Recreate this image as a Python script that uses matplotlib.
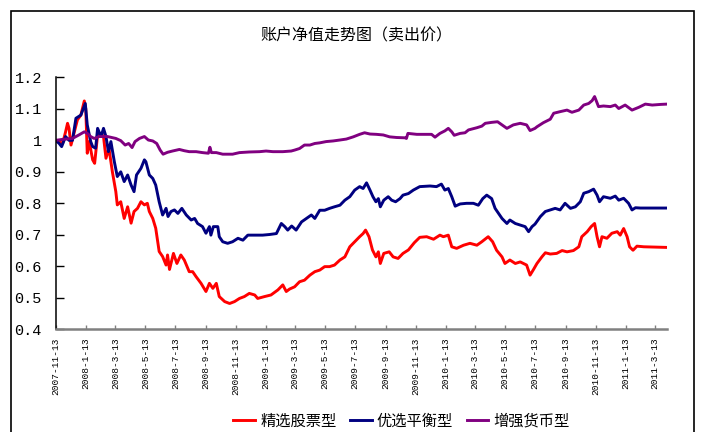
import numpy as np
import pandas as pd
import matplotlib
matplotlib.use('Agg')
import matplotlib.pyplot as plt

plt.rcParams['font.family'] = ['Noto Sans CJK SC', 'DejaVu Sans']

# Series: day offset from start date
start_date = '2007-11-13'
end_day = 1241

red_day = [0, 7, 14, 20, 24, 27, 31, 37, 44, 51, 58, 61, 64, 68, 75, 79, 85, 92, 97, 102,
           108, 115, 122, 125, 132, 139, 146, 153, 159, 166, 173, 180, 186, 190, 197, 203, 210, 217, 224, 227,
           231, 239, 246, 254, 261, 271, 278, 285, 295, 305, 312, 319, 326, 332, 343, 353, 363, 373, 383, 393,
           404, 410, 424, 437, 451, 461, 468, 475, 485, 495, 505, 516, 526, 536, 546, 556, 566, 577, 587, 597,
           607, 617, 624, 629, 636, 643, 650, 655, 659, 666, 677, 685, 695, 705, 716, 728, 739, 753, 767, 780,
           787, 797, 804, 814, 828, 841, 855, 865, 878, 887, 895, 906, 912, 922, 933, 943, 956, 963, 970, 977,
           987, 994, 1004, 1017, 1028, 1038, 1051, 1062, 1068, 1079, 1087, 1094, 1099, 1104, 1109, 1119, 1129, 1140, 1146, 1153,
           1160, 1165, 1172, 1180, 1194, 1241]
red_val = [1.0, 0.995, 0.99, 1.027, 1.054, 1.038, 0.985, 1.022, 1.065, 1.08, 1.125, 1.1, 0.959, 0.996, 0.938, 0.927, 1.017, 1.022, 1.012, 0.943,
           0.975, 0.9, 0.837, 0.795, 0.805, 0.752, 0.789, 0.737, 0.774, 0.784, 0.805, 0.795, 0.8, 0.774, 0.752, 0.721, 0.647, 0.631, 0.604, 0.636,
           0.59, 0.641, 0.609, 0.636, 0.62, 0.583, 0.583, 0.567, 0.546, 0.52, 0.546, 0.53, 0.546, 0.504, 0.488, 0.482, 0.488, 0.498, 0.504, 0.514,
           0.509, 0.498, 0.504, 0.509, 0.525, 0.541, 0.52, 0.528, 0.535, 0.551, 0.556, 0.572, 0.583, 0.588, 0.599, 0.599, 0.604, 0.62, 0.63, 0.662,
           0.678, 0.694, 0.704, 0.715, 0.694, 0.652, 0.63, 0.646, 0.609, 0.641, 0.646, 0.63, 0.625, 0.641, 0.652, 0.675, 0.692, 0.694, 0.686, 0.699,
           0.694, 0.699, 0.662, 0.657, 0.667, 0.673, 0.667, 0.678, 0.694, 0.678, 0.651, 0.63, 0.609, 0.62, 0.609, 0.614, 0.604, 0.572, 0.59, 0.609,
           0.63, 0.643, 0.639, 0.641, 0.65, 0.646, 0.65, 0.662, 0.694, 0.71, 0.726, 0.736, 0.694, 0.662, 0.694, 0.689, 0.705, 0.71, 0.699, 0.72,
           0.694, 0.662, 0.651, 0.664, 0.662, 0.66]

navy_day = [0, 7, 12, 20, 27, 34, 41, 51, 60, 64, 71, 75, 81, 85, 92, 97, 102, 107, 112, 119,
            125, 132, 139, 146, 153, 159, 164, 173, 180, 183, 190, 197, 203, 210, 217, 224, 228, 234, 241, 248,
            256, 265, 275, 282, 288, 298, 305, 312, 315, 320, 329, 332, 339, 349, 359, 370, 380, 390, 400, 410,
            420, 434, 448, 458, 465, 471, 479, 488, 499, 509, 519, 526, 536, 546, 556, 566, 577, 587, 597, 607,
            617, 624, 631, 638, 644, 650, 655, 659, 666, 675, 682, 690, 699, 705, 716, 726, 739, 760, 773, 783,
            790, 797, 804, 811, 821, 834, 848, 858, 867, 875, 885, 892, 899, 906, 916, 922, 933, 943, 953, 960,
            967, 973, 984, 994, 1004, 1014, 1024, 1034, 1045, 1055, 1065, 1072, 1082, 1092, 1099, 1104, 1112, 1126, 1136, 1143,
            1153, 1163, 1170, 1177, 1187, 1241]
navy_val = [1.0, 0.99, 0.98, 1.012, 1.0, 1.0, 1.07, 1.08, 1.117, 1.049, 0.996, 0.98, 0.975, 1.038, 1.012, 1.038, 1.012, 0.964, 0.996, 0.932,
            0.885, 0.9, 0.869, 0.89, 0.858, 0.837, 0.89, 0.911, 0.938, 0.932, 0.89, 0.879, 0.858, 0.805, 0.763, 0.784, 0.758, 0.774, 0.779, 0.768,
            0.784, 0.763, 0.747, 0.752, 0.736, 0.726, 0.705, 0.726, 0.699, 0.726, 0.726, 0.694, 0.678, 0.673, 0.678, 0.689, 0.683, 0.699, 0.699, 0.699,
            0.699, 0.701, 0.704, 0.736, 0.726, 0.715, 0.728, 0.715, 0.741, 0.752, 0.763, 0.752, 0.778, 0.778, 0.784, 0.789, 0.794, 0.81, 0.821, 0.842,
            0.853, 0.847, 0.865, 0.842, 0.821, 0.805, 0.815, 0.789, 0.81, 0.821, 0.81, 0.805, 0.815, 0.826, 0.831, 0.842, 0.853, 0.855, 0.853, 0.861,
            0.842, 0.847, 0.821, 0.791, 0.798, 0.8, 0.8, 0.794, 0.815, 0.826, 0.815, 0.784, 0.768, 0.752, 0.736, 0.747, 0.736, 0.731, 0.726, 0.71,
            0.726, 0.734, 0.758, 0.774, 0.779, 0.784, 0.779, 0.8, 0.784, 0.789, 0.805, 0.832, 0.837, 0.845, 0.826, 0.805, 0.821, 0.816, 0.823, 0.81,
            0.816, 0.8, 0.779, 0.786, 0.785, 0.785]

purple_day = [0, 14, 34, 47, 58, 64, 71, 78, 88, 105, 122, 132, 141, 148, 155, 161, 170, 180, 188, 197,
              205, 212, 218, 227, 237, 251, 261, 271, 285, 298, 310, 313, 316, 326, 339, 359, 373, 393, 414, 427,
              441, 461, 478, 485, 495, 505, 516, 526, 536, 549, 563, 577, 590, 604, 617, 627, 638, 651, 665, 678,
              692, 709, 712, 715, 733, 763, 770, 780, 790, 797, 804, 809, 821, 831, 838, 855, 865, 872, 885, 897,
              906, 916, 929, 943, 956, 963, 973, 977, 990, 1004, 1011, 1024, 1038, 1048, 1062, 1072, 1082, 1089, 1094, 1102,
              1112, 1126, 1136, 1143, 1156, 1170, 1184, 1197, 1211, 1228, 1241]
purple_val = [1.0, 1.003, 1.006, 1.017, 1.027, 1.022, 1.012, 1.006, 1.012, 1.012, 1.006, 0.999, 0.985, 0.99, 0.977, 0.996, 1.006, 1.012, 1.001, 0.998,
              0.99, 0.969, 0.956, 0.962, 0.966, 0.971, 0.967, 0.964, 0.964, 0.961, 0.959, 0.978, 0.961, 0.961, 0.956, 0.956, 0.961, 0.963, 0.964, 0.966,
              0.964, 0.964, 0.966, 0.969, 0.974, 0.985, 0.985, 0.99, 0.992, 0.996, 0.998, 1.001, 1.004, 1.011, 1.019, 1.024, 1.02, 1.019, 1.017, 1.011,
              1.009, 1.008, 1.006, 1.022, 1.019, 1.019, 1.01, 1.022, 1.03, 1.038, 1.027, 1.016, 1.022, 1.024, 1.033, 1.04, 1.045, 1.054, 1.057, 1.059,
              1.049, 1.038, 1.049, 1.054, 1.049, 1.031, 1.038, 1.043, 1.056, 1.067, 1.086, 1.091, 1.096, 1.089, 1.096, 1.112, 1.117, 1.126, 1.139, 1.107,
              1.109, 1.107, 1.112, 1.101, 1.112, 1.096, 1.105, 1.115, 1.112, 1.114, 1.115]

series_names = ['精选股票型', '优选平衡型', '增强货币型']
series_colors = ['#FF0000', '#000080', '#800080']

tick_dates = ['2007-11-13', '2008-1-13', '2008-3-13', '2008-5-13', '2008-7-13', '2008-9-13',
              '2008-11-13', '2009-1-13', '2009-3-13', '2009-5-13', '2009-7-13', '2009-9-13',
              '2009-11-13', '2010-1-13', '2010-3-13', '2010-5-13', '2010-7-13', '2010-9-13',
              '2010-11-13', '2011-1-13', '2011-3-13']
y_ticks = [0.4, 0.5, 0.6, 0.7, 0.8, 0.9, 1.0, 1.1, 1.2]
y_labels = ['0.4', '0.5', '0.6', '0.7', '0.8', '0.9', '1', '1.1', '1.2']

t0 = pd.Timestamp(start_date)


def to_dates(days):
    return t0 + pd.to_timedelta(np.array(days), unit='D')


fig = plt.figure(figsize=(7.01, 4.32), dpi=100)
ax = fig.add_axes([0.0795, 0.2377, 0.872, 0.5833])

for d, v, name, c in zip([red_day, navy_day, purple_day],
                         [red_val, navy_val, purple_val],
                         series_names, series_colors):
    ax.plot(to_dates(d), v, color=c, lw=2.1, label=name, solid_joinstyle='round')

ax.set_xlim(t0, t0 + pd.Timedelta(days=end_day))
ax.set_ylim(0.4, 1.2)

ax.set_xticks([pd.Timestamp(s) for s in tick_dates])
ax.set_xticklabels(tick_dates, rotation=90, family='Liberation Mono', fontsize=6.8)
ax.set_yticks(y_ticks)
ax.set_yticklabels(y_labels, family='Liberation Mono', fontsize=11)

ax.tick_params(axis='y', direction='in', length=6, width=1, pad=10, colors='black')
ax.tick_params(axis='x', direction='in', length=3, width=1, pad=6, color='#808080')

for s in ['top', 'right']:
    ax.spines[s].set_visible(False)
ax.spines['left'].set_linewidth(1.1)
ax.spines['bottom'].set_color('#808080')
ax.spines['bottom'].set_linewidth(1.8)

fig.text(0.508, 0.916, '账户净值走势图（卖出价）', ha='center', va='center', fontsize=11.5)

fig.legend(loc='center', bbox_to_anchor=(0.573, 0.026), ncol=3, frameon=False,
           fontsize=11, handlelength=1.4, handletextpad=0.35, columnspacing=0.9)

# border around the whole picture
fig.patches.append(plt.Rectangle((0.015, -0.01), 0.975, 0.985, transform=fig.transFigure,
                                 fill=False, edgecolor='black', lw=1.2))

fig.savefig('out.png', dpi=100)
